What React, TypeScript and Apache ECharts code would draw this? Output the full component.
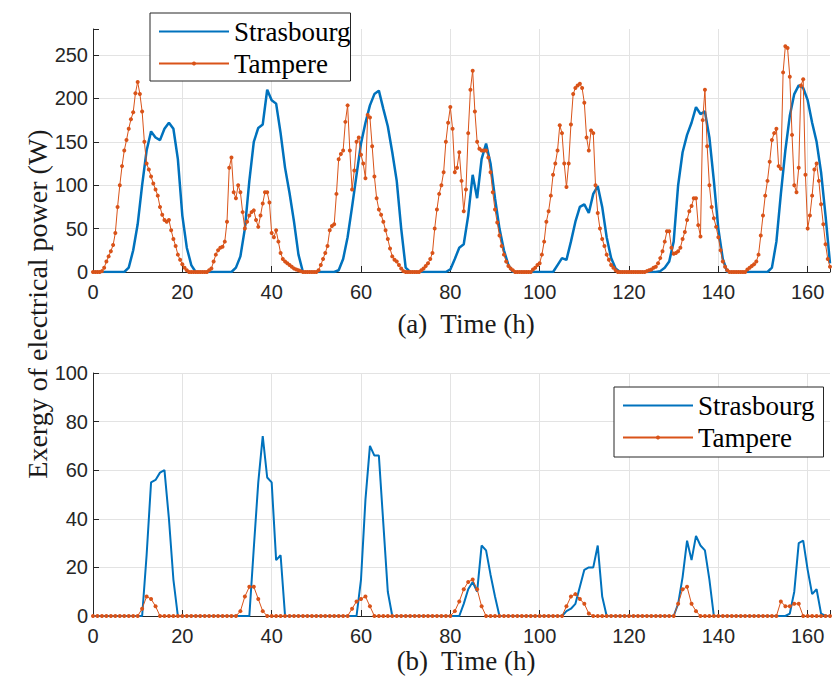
import React, { useEffect, useRef } from "react";
import * as echarts from "echarts";

// ---------- data ----------
const X_MAX = 165;
const xTicks = [0, 20, 40, 60, 80, 100, 120, 140, 160];
const powerTicks = [0, 50, 100, 150, 200, 250];
const exergyTicks = [0, 20, 40, 60, 80, 100];
const seriesNames = ["Strasbourg", "Tampere"];
const panelTitles = ["(a)  Time (h)", "(b)  Time (h)"];
const yTitle = "Exergy of electrical power (W)";

// (a) electrical power, Strasbourg, one value per hour from t = 0 h
const strasbourgPower = [
  0, 0, 0, 0, 0, 0, 0, 0, 5, 25, 55, 100, 140, 162, 155, 152, 165, 172, 165, 130, 65, 28, 8, 0,
  0, 0, 0, 0, 0, 0, 0, 0, 5, 18, 50, 105, 150, 166, 170, 210, 198, 194, 160, 120, 91, 58, 20, 0,
  0, 0, 0, 0, 0, 0, 0, 2, 15, 40, 75, 112, 148, 172, 192, 205, 209, 188, 168, 138, 105, 50, 5, 0,
  0, 0, 0, 0, 0, 0, 0, 0, 3, 15, 28, 32, 65, 112, 85, 130, 148, 125, 85, 50, 25, 8, 0, 0,
  0, 0, 0, 0, 0, 0, 0, 0, 8, 16, 14, 35, 58, 75, 78, 68, 90, 99, 75, 40, 16, 4, 0, 0,
  0, 0, 0, 0, 0, 0, 0, 1, 5, 12, 35, 100, 138, 158, 172, 190, 182, 185, 155, 105, 50, 15, 0, 0,
  0, 0, 0, 0, 0, 0, 0, 0, 5, 35, 90, 140, 180, 205, 215, 212, 198, 172, 150, 115, 65, 10,
];

// (a) electrical power, Tampere, one value per half hour from t = 0 h
const tamperePower = [
  0, 0, 0, 0, 1, 5, 12, 18, 24, 31, 45, 75, 100, 122, 140, 152,
  165, 176, 184, 206, 219, 205, 185, 150, 125, 118, 110, 102, 95, 88, 75, 66,
  60, 58, 60, 48, 38, 30, 20, 14, 9, 5, 2, 0, 0, 0, 0, 0,
  0, 0, 0, 0, 2, 4, 12, 20, 25, 28, 29, 35, 58, 120, 132, 92,
  85, 100, 92, 69, 50, 58, 65, 69, 71, 60, 52, 65, 79, 92, 92, 80,
  45, 40, 48, 35, 22, 15, 12, 10, 8, 6, 4, 3, 2, 1, 0, 0,
  0, 0, 0, 0, 0, 2, 8, 15, 22, 30, 48, 53, 55, 90, 130, 136,
  140, 173, 192, 140, 95, 117, 150, 155, 135, 125, 108, 181, 178, 145, 110, 85,
  72, 66, 58, 48, 38, 27, 18, 14, 12, 8, 4, 1, 0, 0, 0, 0,
  0, 0, 0, 2, 4, 7, 10, 15, 22, 50, 72, 90, 100, 115, 150, 172,
  190, 165, 115, 120, 138, 105, 70, 95, 160, 210, 232, 185, 150, 142, 140, 140,
  140, 132, 115, 92, 72, 57, 42, 30, 20, 12, 7, 4, 2, 0, 0, 0,
  0, 0, 0, 0, 0, 3, 5, 8, 10, 20, 35, 58, 70, 88, 112, 125,
  140, 169, 160, 125, 98, 125, 170, 205, 212, 215, 217, 212, 195, 155, 140, 163,
  160, 100, 68, 50, 38, 30, 20, 14, 8, 5, 2, 0, 0, 0, 0, 0,
  0, 0, 0, 0, 0, 0, 0, 0, 1, 2, 3, 5, 6, 10, 16, 24,
  35, 47, 47, 28, 21, 22, 24, 28, 38, 46, 60, 70, 76, 85, 85, 54,
  41, 175, 210, 145, 100, 75, 62, 52, 40, 25, 12, 6, 2, 0, 0, 0,
  0, 0, 0, 0, 0, 3, 5, 7, 9, 12, 20, 42, 65, 88, 105, 127,
  152, 160, 165, 122, 119, 230, 260, 258, 225, 158, 100, 92, 120, 215, 222, 112,
  50, 65, 88, 118, 125, 105, 78, 55, 32, 15, 6,
];

// (b) exergy, Strasbourg, one value per hour from t = 0 h
const strasbourgExergy = [
  0, 0, 0, 0, 0, 0, 0, 0, 0, 0, 0, 0, 25, 55, 56, 59, 60, 40, 15, 0, 0, 0, 0, 0,
  0, 0, 0, 0, 0, 0, 0, 0, 0, 0, 0, 0, 28, 55, 74, 57, 55, 23, 25, 0, 0, 0, 0, 0,
  0, 0, 0, 0, 0, 0, 0, 0, 0, 0, 0, 0, 15, 48, 70, 66, 66, 38, 10, 0, 0, 0, 0, 0,
  0, 0, 0, 0, 0, 0, 0, 0, 0, 0, 0, 5, 11, 14, 10, 29, 27, 17, 8, 0, 0, 0, 0, 0,
  0, 0, 0, 0, 0, 0, 0, 0, 0, 0, 2, 3, 5, 12, 19, 20, 20, 29, 8, 0, 0, 0, 0, 0,
  0, 0, 0, 0, 0, 0, 0, 0, 0, 0, 0, 5, 16, 31, 23, 33, 29, 27, 15, 0, 0, 0, 0, 0,
  0, 0, 0, 0, 0, 0, 0, 0, 0, 0, 0, 0, 1, 10, 30, 31, 19, 9, 11, 1, 0, 0,
];

// (b) exergy, Tampere, one value per hour from t = 0 h
const tampereExergy = [
  0, 0, 0, 0, 0, 0, 0, 0, 0, 0, 0, 3, 8, 7, 4, 0, 0, 0, 0, 0, 0, 0, 0, 0,
  0, 0, 0, 0, 0, 0, 0, 0, 0, 2, 8, 12, 12, 7, 2, 0, 0, 0, 0, 0, 0, 0, 0, 0,
  0, 0, 0, 0, 0, 0, 0, 0, 0, 0, 3, 6, 7, 8, 4, 0, 0, 0, 0, 0, 0, 0, 0, 0,
  0, 0, 0, 0, 0, 0, 0, 0, 0, 2, 6, 11, 14, 15, 11, 4, 0, 0, 0, 0, 0, 0, 0, 0,
  0, 0, 0, 0, 0, 0, 0, 0, 0, 0, 4, 8, 9, 7, 5, 1, 0, 0, 0, 0, 0, 0, 0, 0,
  0, 0, 0, 0, 0, 0, 0, 0, 0, 0, 0, 5, 11, 12, 5, 2, 0, 0, 0, 0, 0, 0, 0, 0,
  0, 0, 0, 0, 0, 0, 0, 0, 0, 0, 6, 4, 4, 5, 5, 0, 0, 0, 0, 0, 0, 0,
];

// ---------- styling ----------
const BLUE = "#0072BD";
const ORANGE = "#D95319";
const AXIS = "#262626";
const GRIDLINE = "#e3e3e3";
const SANS = "'Liberation Sans', Arial, sans-serif";
const SERIF = "'Liberation Serif', 'Times New Roman', serif";

const pairs = (vals: number[], step: number) => vals.map((v, i) => [i * step, v]);

function makeXAxis(gridIndex: number) {
  return {
    type: "value",
    gridIndex,
    min: 0,
    max: X_MAX,
    interval: 20,
    axisLine: { show: true, onZero: false, lineStyle: { color: AXIS, width: 1 } },
    axisTick: { show: true, inside: true, length: 6, lineStyle: { color: AXIS } },
    axisLabel: {
      margin: 12,
      fontFamily: SANS,
      fontSize: 20,
      lineHeight: 16,
      color: AXIS,
      formatter: (v: number) => (xTicks.includes(v) ? String(v) : ""),
    },
    splitLine: { show: true, showMinLine: false, showMaxLine: false, lineStyle: { color: GRIDLINE, width: 1 } },
  };
}

function makeYAxis(gridIndex: number, max: number, interval: number, ticks: number[], showMaxLine: boolean) {
  return {
    type: "value",
    gridIndex,
    min: 0,
    max,
    interval,
    axisLine: { show: true, onZero: false, lineStyle: { color: AXIS, width: 1 } },
    axisTick: { show: true, inside: true, length: 6, lineStyle: { color: AXIS } },
    axisLabel: {
      margin: 5,
      fontFamily: SANS,
      fontSize: 20,
      lineHeight: 16,
      color: AXIS,
      formatter: (v: number) => (ticks.includes(v) ? String(v) : ""),
    },
    splitLine: { show: true, showMinLine: false, showMaxLine, lineStyle: { color: GRIDLINE, width: 1 } },
  };
}

function lineSeries(name: string, gridIndex: number, data: number[][], isTampere: boolean, width: number) {
  const color = isTampere ? ORANGE : BLUE;
  return {
    name,
    type: "line",
    xAxisIndex: gridIndex,
    yAxisIndex: gridIndex,
    data,
    symbol: isTampere ? "circle" : "none",
    symbolSize: isTampere ? 4 : 0,
    showSymbol: isTampere,
    showAllSymbol: true,
    lineStyle: { color, width },
    itemStyle: { color },
    z: isTampere ? 3 : 2,
    silent: true,
  };
}

function makeLegend(left: number, top: number, padding: number[]) {
  return {
    show: true,
    data: [{ name: seriesNames[0], itemStyle: { opacity: 0 } }, { name: seriesNames[1] }],
    left,
    top,
    orient: "vertical",
    itemWidth: 70,
    itemHeight: 5,
    itemGap: 5,
    padding,
    borderColor: AXIS,
    borderWidth: 1,
    borderRadius: 0,
    backgroundColor: "#ffffff",
    selectedMode: false,
    textStyle: { fontFamily: SERIF, fontSize: 27, lineHeight: 27, color: "#000000" },
  };
}

function titleText(text: string, x: number, y: number, size: number, rotation: number) {
  return {
    type: "text",
    x,
    y,
    rotation,
    style: {
      text,
      fontFamily: SERIF,
      fontSize: size,
      lineHeight: 20,
      fill: "#1a1a1a",
      align: "center",
      verticalAlign: "middle",
      textAlign: "center",
      textVerticalAlign: "middle",
    },
  };
}

export default function App() {
  const ref = useRef<HTMLDivElement>(null);

  useEffect(() => {
    if (!ref.current) return;
    const chart = echarts.init(ref.current, null, { renderer: "svg" });
    const option = {
      animation: false,
      backgroundColor: "#ffffff",
      grid: [
        { left: 93, top: 29, width: 740, height: 243 },
        { left: 93, top: 373, width: 740, height: 243 },
      ],
      xAxis: [makeXAxis(0), makeXAxis(1)],
      yAxis: [
        makeYAxis(0, 280, 50, powerTicks, false),
        makeYAxis(1, 100, 20, exergyTicks, true),
      ],
      legend: [makeLegend(150, 13, [5, 0, 4, 8]), makeLegend(614, 387, [5, 9, 6, 8])],
      series: [
        lineSeries(seriesNames[0], 0, pairs(strasbourgPower, 1), false, 2.5),
        lineSeries(seriesNames[1], 0, pairs(tamperePower, 0.5), true, 1),
        lineSeries(seriesNames[0], 1, pairs(strasbourgExergy, 1), false, 2),
        lineSeries(seriesNames[1], 1, pairs(tampereExergy, 1), true, 1),
      ],
      graphic: [
        titleText(yTitle, 37, 304, 28, Math.PI / 2),
        titleText(panelTitles[0], 466, 324, 27, 0),
        titleText(panelTitles[1], 466, 661, 27, 0),
      ],
    };
    chart.setOption(option as any);
    return () => chart.dispose();
  }, []);

  return (
    <div
      ref={ref}
      style={{ position: "absolute", left: 0, top: 0, width: 833, height: 680, background: "#ffffff" }}
    />
  );
}
